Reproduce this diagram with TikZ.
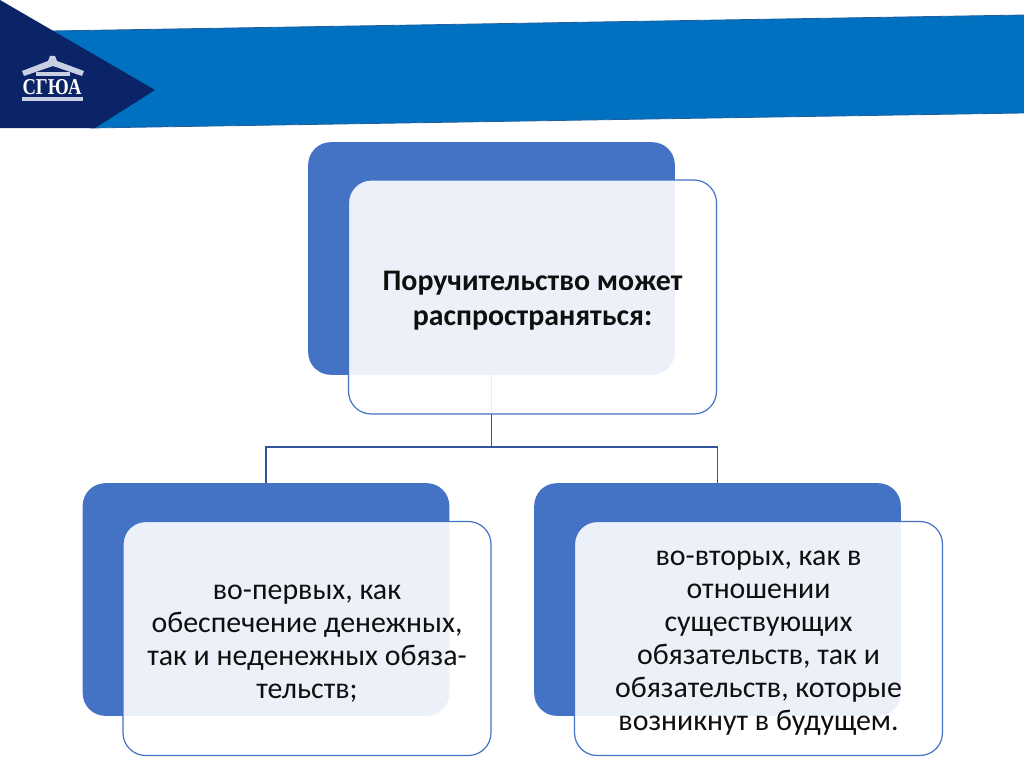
\documentclass[tikz,border=0pt]{standalone}
\usepackage{fontspec}
\setmainfont{Carlito}
\newfontfamily\logofont{Liberation Serif}
\usepackage{xcolor}
\definecolor{bandblue}{HTML}{0070C0}
\definecolor{banddark}{HTML}{1F5F9F}
\definecolor{navy}{HTML}{0B2468}
\definecolor{boxblue}{HTML}{4472C4}
\definecolor{linkblue}{HTML}{2F5597}
\definecolor{logogray}{HTML}{C9D0E4}
\usetikzlibrary{arrows.meta,positioning,calc}
\tikzset{
  backbox/.style={draw=none,fill=boxblue,rounded corners=17pt,minimum width=275pt,minimum height=174.5pt,inner sep=0pt},
  frontbox/.style={draw=boxblue,line width=0.9pt,fill=white,fill opacity=0.9,rounded corners=17pt,minimum width=276pt,minimum height=175.5pt,inner sep=0pt},
  boxtext/.style={inner sep=0pt,align=center,font=\fontsize{22.4}{24.75}\selectfont,text=black!94},
  link/.style={draw=linkblue,line width=1pt}
}
\begin{document}
\begin{tikzpicture}[x=0.75pt,y=-0.75pt]
    \useasboundingbox (0,0) rectangle (1024,767);
    % header
    \fill[bandblue] (50,31) -- (1024,15) -- (1024,113) -- (90,128) -- cycle;
    \draw[banddark,line width=0.6pt] (50,31) -- (1024,15);
    \draw[banddark,line width=0.6pt] (90,128) -- (1024,113);
    \fill[navy] (0,0) -- (155,90) -- (95,128) -- (0,128) -- cycle;
    % logo
    \fill[logogray] (22,71) -- (48,61) -- (50,56) -- (55,56) -- (57,61) -- (84,71) -- (82,76) -- (53,66) -- (24,76) -- cycle;
    \fill[logogray] (36,72) rectangle (70,76);
    \fill[logogray] (22,97) rectangle (83,101);
    \node[xscale=0.82,transform shape] (logo) at (52,87) {\logofont\bfseries\fontsize{17}{17}\selectfont\color{white}СГЮА};
    % back boxes
    \node[backbox] (pb) at (491.5,258.5) {};
    \node[backbox] (lb) at (266,599.5) {};
    \node[backbox] (rb) at (717.5,599.5) {};
    % connectors
    \coordinate (j) at (491.5,447);
    \draw[link] (pb.south) -- (j);
    \draw[link] (lb.north) |- (j);
    \draw[link] (rb.north) |- (j);
    % front boxes
    \node[frontbox] (pf) at (532.5,297) {};
    \node[frontbox] (lf) at (307,638.5) {};
    \node[frontbox] (rf) at (758.5,638.5) {};
    \node[boxtext] (ptext) at ($(pf)+(0,3.5)$) {\textbf{Поручительство может}\\[1pt]\textbf{распространяться:}};
    \node[boxtext] (ltext) at ($(lf)+(0,5)$) {во-первых, как\\обеспечение денежных,\\так и неденежных обяза-\\тельств;};
    \node[boxtext] (rtext) at ($(rf)+(0,5)$) {во-вторых, как в\\отношении\\существующих\\обязательств, так и\\обязательств, которые\\возникнут в будущем.};
\end{tikzpicture}
\end{document}
